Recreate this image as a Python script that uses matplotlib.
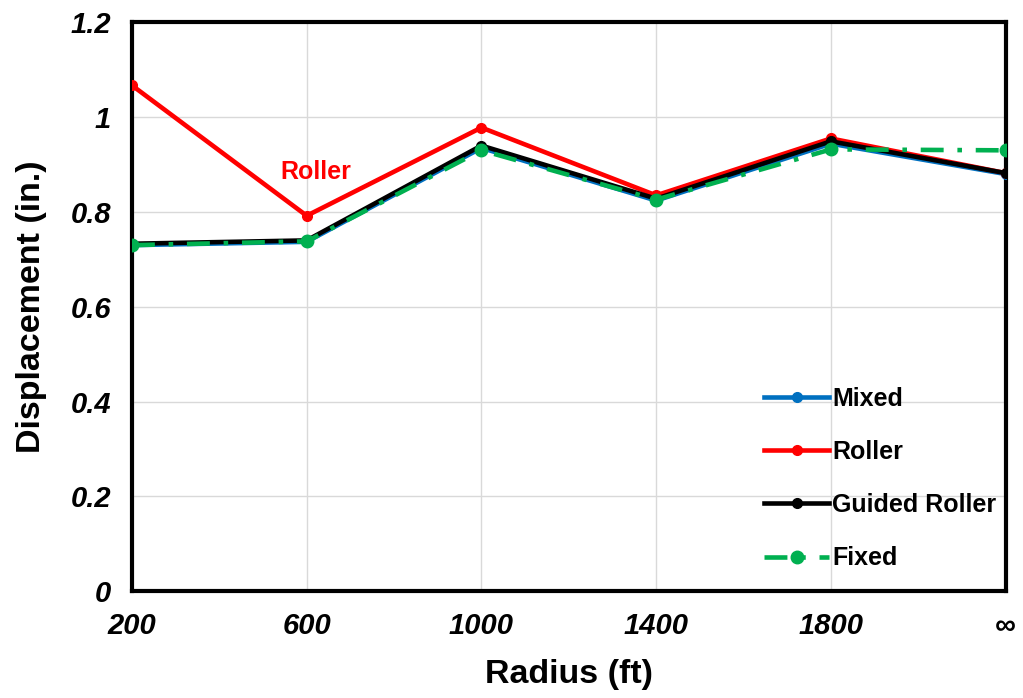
import matplotlib
matplotlib.use("Agg")
import matplotlib.pyplot as plt

plt.rcParams['font.family'] = ['Liberation Sans', 'DejaVu Sans']

# 数据
radius_labels = ['200', '600', '1000', '1400', '1800', '\u221e']
mixed = [0.730, 0.737, 0.935, 0.824, 0.944, 0.880]
roller = [1.067, 0.792, 0.978, 0.835, 0.955, 0.882]
guided_roller = [0.733, 0.740, 0.940, 0.828, 0.949, 0.882]
fixed = [0.730, 0.738, 0.930, 0.826, 0.932, 0.930]

x = list(range(len(radius_labels)))

fig = plt.figure(figsize=(10.23, 6.98), dpi=100)
ax = fig.add_axes([0.129, 0.153, 0.854, 0.815])

ax.plot(x, mixed, color='#0070C0', lw=3.3, marker='o', ms=7, label='Mixed', zorder=3)
ax.plot(x, roller, color='#FF0000', lw=3.3, marker='o', ms=7, label='Roller', zorder=4)
ax.plot(x, guided_roller, color='#000000', lw=3.3, marker='o', ms=7, label='Guided Roller', zorder=5)
ax.plot(x, fixed, color='#00B050', lw=3.3, marker='o', ms=9, dashes=(5, 3, 1, 3),
        label='Fixed', zorder=6)

ax.set_xlim(0, 5)
ax.set_ylim(0, 1.2)
ax.set_xticks(x)
ax.set_xticklabels(radius_labels)
ax.set_yticks([0, 0.2, 0.4, 0.6, 0.8, 1.0, 1.2])
ax.set_yticklabels(['0', '0.2', '0.4', '0.6', '0.8', '1', '1.2'])
ax.tick_params(length=0, pad=15)
for lab in ax.get_xticklabels() + ax.get_yticklabels():
    lab.set_fontsize(21)
    lab.set_fontweight('bold')
    lab.set_fontstyle('italic')

ax.grid(True, color='#D9D9D9', lw=1)
ax.set_axisbelow(True)
for sp in ax.spines.values():
    sp.set_linewidth(3)
    sp.set_color('black')

ax.set_xlabel('Radius (ft)', fontsize=24.5, fontweight='bold', labelpad=14)
ax.set_ylabel('Displacement (in.)', fontsize=24.5, fontweight='bold', labelpad=17)

ax.text(1.05, 0.885, 'Roller', color='#FF0000', fontsize=18, fontweight='bold',
        ha='center', va='center')

leg = ax.legend(loc='lower right', bbox_to_anchor=(1.008, 0.008), frameon=False,
                prop={'size': 18, 'weight': 'bold'}, labelspacing=1.17,
                handlelength=2.6, handletextpad=0.12, borderaxespad=0.25)

fig.savefig('out.png', dpi=100)
